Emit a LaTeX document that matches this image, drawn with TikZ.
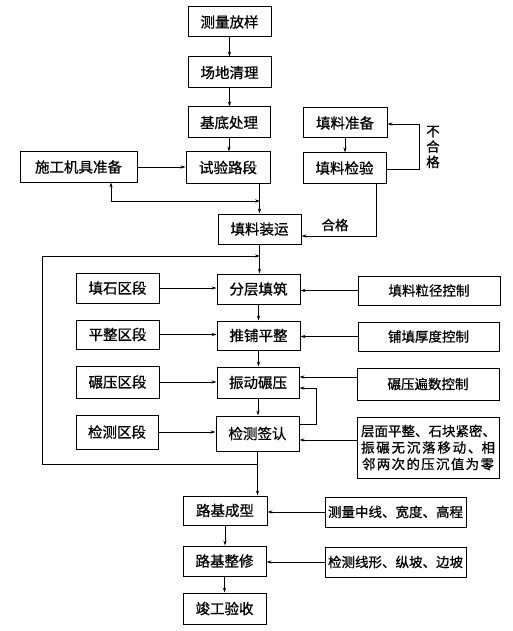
\documentclass[tikz,border=0pt]{standalone}
\usepackage{fontspec}
\setmainfont{Noto Sans CJK SC}[FakeBold=0.7]
\usetikzlibrary{arrows.meta,calc}
\tikzset{
  box/.style={draw, line width=1pt, minimum height=30pt, minimum width=83pt, inner sep=0pt, font=\fontsize{14.5}{16}\selectfont},
  wbox/.style={box, minimum width=142pt, font=\fontsize{13.5}{16}\selectfont},
  arr/.style={-{Stealth[length=5pt,width=3.2pt]}, line width=0.6pt},
  arrb/.style={{Stealth[length=5pt,width=3.2pt]}-{Stealth[length=5pt,width=3.2pt]}, line width=0.6pt},
  lbl/.style={inner sep=0pt, font=\fontsize{13.5}{15}\selectfont}
}
\begin{document}
\begin{tikzpicture}[x=1pt,y=-1pt]
\useasboundingbox (0,0) rectangle (513,631);
% main column
\node[box] (n1) at (229.5,22) {测量放样};
\node[box,minimum height=31pt] (n2) at (229.5,72.5) {场地清理};
\node[box,minimum width=82pt,minimum height=31pt] (n3) at (229,122.5) {基底处理};
\node[box,minimum width=84pt] (tlzb) at (345,123) {填料准备};
\node[box,minimum width=117pt] (sg) at (78.5,167) {施工机具准备};
\node[box,minimum width=84pt,minimum height=31pt] (sy) at (228,167.5) {试验路段};
\node[box] (tljy) at (344.5,168) {填料检验};
\node[box] (tlzy) at (259.5,229) {填料装运};
% layered section
\node[box] (ts) at (117.5,288) {填石区段};
\node[box] (fc) at (258.5,289) {分层填筑};
\node[wbox,minimum height=29pt] (lj) at (429,290.5) {填料粒径控制};
\node[box,minimum height=29pt] (pz) at (117.5,334.5) {平整区段};
\node[box,minimum height=29pt] (tp) at (258.5,335.5) {推铺平整};
\node[wbox,minimum height=29pt,minimum width=141pt] (pt) at (428.5,336.5) {铺填厚度控制};
\node[box,minimum height=32pt] (ny) at (117.5,382) {碾压区段};
\node[box,minimum width=82pt,minimum height=31pt] (zd) at (258,382.5) {振动碾压};
\node[wbox,minimum height=32pt] (bs) at (428,384) {碾压遍数控制};
\node[box,minimum width=82pt,minimum height=34pt] (jd) at (117,432) {检测区段};
\node[box,minimum height=35pt] (jq) at (257.5,433.5) {检测签认};
\node[draw, line width=1pt, minimum width=142pt, minimum height=61pt, inner sep=0pt, align=center, font=\fontsize{13.5}{16.5}\selectfont] (cm) at (428,447.5)
  {\makebox[134pt][s]{层\hfill 面\hfill 平\hfill 整\hfill 、石\hfill 块\hfill 紧\hfill 密\hfill 、}\\
   \makebox[134pt][s]{振\hfill 碾\hfill 无\hfill 沉\hfill 落\hfill 移\hfill 动\hfill 、相}\\
   \makebox[132pt][s]{邻\hfill 两\hfill 次\hfill 的\hfill 压\hfill 沉\hfill 值\hfill 为\hfill 零}};
% finishing
\node[box,minimum width=84pt,minimum height=29pt] (cx) at (225,510.5) {路基成型};
\node[wbox,minimum width=141pt] (clz) at (395.5,512) {测量中线、宽度、高程};
\node[box] (zx) at (224.5,561) {路基整修};
\node[wbox,minimum width=141pt] (jc) at (395.5,562) {检测线形、纵坡、边坡};
\node[box,minimum height=31pt] (jg) at (224.5,608.5) {竣工验收};
% labels
\node[lbl] (bhg) at (433,147) {\shortstack{不\\合\\格}};
\node[lbl] (hg) at (335,225) {合格};
% coordinates
\coordinate (sgd) at (111,201);
\coordinate (j1) at (260,201);
\coordinate (q1) at (376,236);
\coordinate (q2) at (419,169);
\coordinate (q3) at (419,124);
\coordinate (f1) at (260,256);
\coordinate (f2) at (257.5,464);
\coordinate (c1) at (42,464);
\coordinate (c2) at (42,256);
\coordinate (b1) at (357,377);
\coordinate (l1) at (316,424);
\coordinate (l2) at (316,388);
\coordinate (m1) at (357,440);
% connectors
\draw[arr] (n1.south) -- (n1.south |- n2.north);
\draw[arr] (n2.south) -- (n2.south |- n3.north);
\draw[arr] (n3.south) -- (n3.south |- sy.north);
\draw[arr] (tlzb.south) -- (tlzb.south |- tljy.north);
\draw[arr] (sg.east) -- (sg.east -| sy.west);
\draw[arrb] (sg.south -| sgd) -- (sgd) -- (j1);
\draw[arr] (tlzy.north |- sy.south) -- (tlzy.north);
\draw[arr] (q1 |- tljy.south) -- (q1) -- (q1 -| tlzy.east);
\draw[arr] (q2 -| tljy.east) -- (q2) -- (q3) -- (q3 -| tlzb.east);
\draw[arr] (tlzy.south) -- (tlzy.south |- fc.north);
\draw[arr] (f2) -- (c1) -- (c2) -- (f1);
\draw[arr] (fc.south) -- (fc.south |- tp.north);
\draw[arr] (tp.south) -- (tp.south |- zd.north);
\draw[arr] (zd.south) -- (zd.south |- jq.north);
\draw[arr] (jq.south) -- (jq.south |- cx.north);
\draw[arr] (cx.south) -- (cx.south |- zx.north);
\draw[arr] (zx.south) -- (zx.south |- jg.north);
\draw[arr] (ts.east) -- (ts.east -| fc.west);
\draw[arr] (pz.east) -- (pz.east -| tp.west);
\draw[arr] (ny.east) -- (ny.east -| zd.west);
\draw[arr] (jd.east) -- (jd.east -| jq.west);
\draw[arr] (lj.west) -- (lj.west -| fc.east);
\draw[arr] (pt.west) -- (pt.west -| tp.east);
\draw[arr] (bs.west |- b1) -- (b1 -| zd.east);
\draw[arr] (l1 -| jq.east) -- (l1) -- (l2) -- (l2 -| zd.east);
\draw[arr] (cm.west |- m1) -- (m1 -| jq.east);
\draw[arr] (clz.west) -- (clz.west -| cx.east);
\draw[arr] (jc.west) -- (jc.west -| zx.east);
\end{tikzpicture}
\end{document}
